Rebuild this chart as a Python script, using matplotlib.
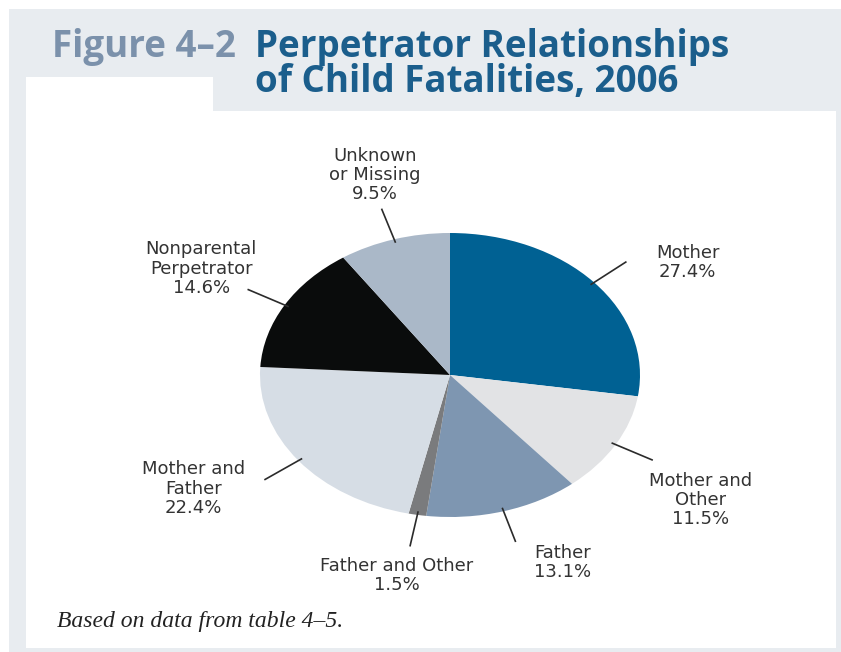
import numpy as np
import matplotlib.pyplot as plt
from matplotlib.patches import Rectangle

# data
categories = ['Mother', 'Mother and\nOther', 'Father', 'Father and Other',
              'Mother and\nFather', 'Nonparental\nPerpetrator', 'Unknown\nor Missing']
shares = [27.4, 11.5, 13.1, 1.5, 22.4, 14.6, 9.5]
colors = ['#006193', '#e2e3e5', '#7e96b1', '#7a7b7d', '#d6dde5', '#0a0c0c', '#aab8c8']

# label centres in pie-axes units (layout only)
label_pos = [(1.25, 0.79), (1.32, -0.88), (0.595, -1.32), (-0.28, -1.41),
             (-1.35, -0.80), (-1.31, 0.75), (-0.395, 1.41)]

W, H = 841, 652
fig = plt.figure(figsize=(W / 100, H / 100), dpi=100)
fig.patch.set_facecolor('white')

def px_rect(x0, y0, x1, y1, color):
    fig.patches.append(Rectangle((x0 / W, 1 - y1 / H), (x1 - x0) / W, (y1 - y0) / H,
                                 transform=fig.transFigure, color=color, lw=0, zorder=0))

# background panels
px_rect(9, 9, 841, 652, '#e8ecf0')
px_rect(26, 111, 836, 648, 'white')
px_rect(26, 77, 213, 111, 'white')

# pie axes (ellipse: 380 x 284 px centred at 450, 375)
cx, cy, rx, ry = 450, 375, 190, 142
ax = fig.add_axes([(cx - rx) / W, 1 - (cy + ry) / H, 2 * rx / W, 2 * ry / H])
ax.set_zorder(2)
wedges, _ = ax.pie(shares, colors=colors, startangle=90, counterclock=False,
                   wedgeprops=dict(linewidth=0))
ax.set_aspect('auto')
ax.set_xlim(-1, 1)
ax.set_ylim(-1, 1)
ax.axis('off')

for w, name, val, (tx, ty) in zip(wedges, categories, shares, label_pos):
    mid = np.deg2rad((w.theta1 + w.theta2) / 2)
    r0, r1 = 0.98, 1.22
    ax.plot([r0 * np.cos(mid), r1 * np.cos(mid)], [r0 * np.sin(mid), r1 * np.sin(mid)],
            color='#2b2b2b', lw=1.2, clip_on=False)
    ax.text(tx, ty, f'{name}\n{val}%', ha='center', va='center', multialignment='center',
            fontsize=13, color='#333333', linespacing=1.08, clip_on=False)

# title
fig.text(52 / W, 1 - 57 / H, 'Figure 4\u20132', fontsize=26.5, fontweight='bold',
         color='#7b91ab', family='Open Sans', va='baseline')
fig.text(255 / W, 1 - 57 / H, 'Perpetrator Relationships', fontsize=26.5, fontweight='bold',
         color='#1b5e8c', family='Open Sans', va='baseline')
fig.text(255 / W, 1 - 92 / H, 'of Child Fatalities, 2006', fontsize=26.5, fontweight='bold',
         color='#1b5e8c', family='Open Sans', va='baseline')

# source note
fig.text(57 / W, 1 - 622 / H, 'Based on data from table 4\u20135.', fontsize=17,
         style='italic', family='Liberation Serif', color='#222222', va='center')

fig.savefig('out.png', dpi=100, facecolor='white')
